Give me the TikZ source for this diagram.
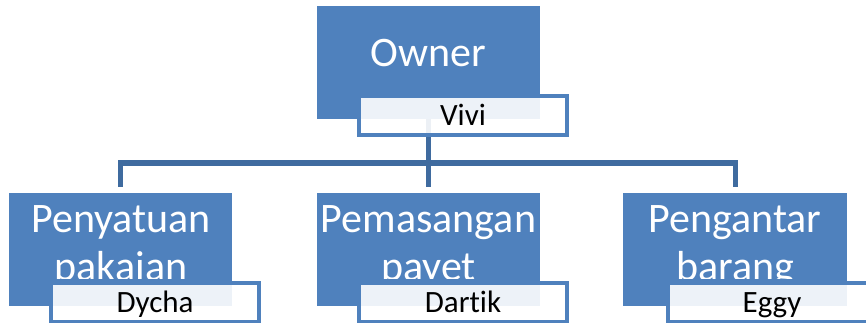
\documentclass[tikz,border=0pt]{standalone}
\usepackage{fontspec}
\setmainfont{Carlito}[RawFeature=-liga]
\definecolor{boxblue}{HTML}{4F81BD}
\definecolor{linkblue}{HTML}{3F6B9F}
\begin{document}
\begin{tikzpicture}[x=1pt,y=-1pt,
  mainbox/.style={fill=boxblue, draw=none, minimum width=223pt, minimum height=113pt, inner sep=0pt},
  maintext/.style={text=white, font=\fontsize{42}{48}\selectfont, anchor=base, inner sep=0pt},
  subbox/.style={fill=white, fill opacity=0.9, text opacity=1, draw=boxblue, line width=4pt,
    minimum width=208pt, minimum height=39pt, inner sep=0pt, text height=20pt, text depth=0pt,
    font=\fontsize{31}{36}\selectfont, text=black},
  link/.style={draw=linkblue, line width=5pt}]
\useasboundingbox (0,0) rectangle (866,323);
\clip (0,0) rectangle (866,323);
% main boxes
\node[mainbox] (owner) at (428.5,62.5) {};
\node[mainbox] (c1) at (120.5,249.5) {};
\node[mainbox] (c2) at (428.5,249.5) {};
\node[mainbox, minimum width=224pt] (c3) at (735,249.5) {};
% connectors
\coordinate (hub) at (428.5,163);
\draw[link] (owner.south) -- (hub);
\draw[link, shorten >=6pt] (hub) -| (c1.north);
\draw[link, shorten >=6pt] (hub) -- (c2.north);
\draw[link, shorten >=6pt] (hub) -| (c3.north);
% main texts
\begin{scope}
\clip (0,0) rectangle (866,278);
\node[maintext] (townerl) at (428.5,67) {Owner};
\node[maintext] (t1a) at (121,232) {Penyatuan};
\node[maintext] (t1b) at (121,280) {pakaian};
\node[maintext] (t2a) at (428.5,232) {Pemasangan};
\node[maintext] (t2b) at (428.5,280) {payet};
\node[maintext] (t3a) at (735,232) {Pengantar};
\node[maintext] (t3b) at (735,280) {barang};
\end{scope}
% sub boxes
\node[subbox] (vivi) at (463,115.5) {Vivi};
\node[subbox] (dycha) at (155,302.5) {Dycha};
\node[subbox] (dartik) at (463,302.5) {Dartik};
\node[subbox] (eggy) at (772,302.5) {Eggy};
\end{tikzpicture}
\end{document}
